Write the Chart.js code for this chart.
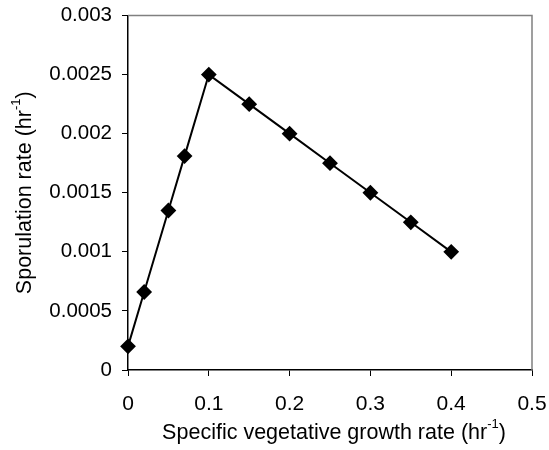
<!DOCTYPE html>
<html>
<head>
<meta charset="utf-8">
<script src="https://cdn.jsdelivr.net/npm/chart.js@4.4.0/dist/chart.umd.min.js"></script>
<style>
  html, body { margin: 0; padding: 0; background: #fff; }
  #wrap { width: 549px; height: 450px; }
</style>
</head>
<body>
<div id="wrap"><canvas id="c" width="549" height="450"></canvas></div>
<script>
// data
const growthRate = [0, 0.02, 0.05, 0.07, 0.1, 0.15, 0.2, 0.25, 0.3, 0.35, 0.4];
const sporulation = [0.0002, 0.00066, 0.00135, 0.00181, 0.0025, 0.00225, 0.002, 0.00175, 0.0015, 0.00125, 0.001];
const xTicks = [0, 0.1, 0.2, 0.3, 0.4, 0.5];
const yTicks = [0, 0.0005, 0.001, 0.0015, 0.002, 0.0025, 0.003];
const xTitle = ['Specific vegetative growth rate (hr', '-1', ')'];
const yTitle = ['Sporulation rate (hr', '-1', ')'];

const FONT = '"Liberation Sans", Arial, sans-serif';

// draws a title with a raised "-1" part
function drawSupTitle(ctx, parts, size) {
  const big = size + 'px ' + FONT, small = Math.round(size * 0.62) + 'px ' + FONT;
  ctx.font = big; const w0 = ctx.measureText(parts[0]).width;
  const w2 = ctx.measureText(parts[2]).width;
  ctx.font = small; const w1 = ctx.measureText(parts[1]).width;
  const total = w0 + w1 + w2;
  let x = -total / 2;
  ctx.textBaseline = 'middle'; ctx.textAlign = 'left'; ctx.fillStyle = '#000';
  ctx.font = big; ctx.fillText(parts[0], x, 0); x += w0;
  ctx.font = small; ctx.fillText(parts[1], x, -size * 0.4); x += w1;
  ctx.font = big; ctx.fillText(parts[2], x, 0);
}

const framePlugin = {
  id: 'frame',
  beforeDatasetsDraw(chart) {
    const { ctx, chartArea: a } = chart;
    ctx.save();
    ctx.strokeStyle = '#808080'; ctx.lineWidth = 1.5;
    ctx.beginPath();
    ctx.moveTo(a.left, a.top); ctx.lineTo(a.right, a.top); ctx.lineTo(a.right, a.bottom);
    ctx.stroke();
    ctx.restore();
  },
  afterDraw(chart) {
    const { ctx, chartArea: a } = chart;
    ctx.save();
    ctx.translate((a.left + a.right) / 2 + 4, 433);
    drawSupTitle(ctx, xTitle, 21.5);
    ctx.restore();
    ctx.save();
    ctx.translate(25, (a.top + a.bottom) / 2);
    ctx.rotate(-Math.PI / 2);
    drawSupTitle(ctx, yTitle, 21.5);
    ctx.restore();
  }
};

new Chart(document.getElementById('c'), {
  type: 'scatter',
  data: {
    datasets: [{
      data: growthRate.map((x, i) => ({ x: x, y: sporulation[i] })),
      showLine: true,
      borderColor: '#000',
      borderWidth: 2,
      backgroundColor: '#000',
      pointStyle: 'rectRot',
      pointRadius: 6.5,
      pointHoverRadius: 6.5,
      clip: false
    }]
  },
  options: {
    responsive: false,
    animation: false,
    events: [],
    layout: { padding: { top: 15.5, right: 17, left: 0, bottom: 0 } },
    plugins: { legend: { display: false }, tooltip: { enabled: false } },
    scales: {
      x: {
        type: 'linear', min: 0, max: 0.5,
        afterFit(s) { s.height = 80; s.paddingLeft = 0; s.paddingRight = 0; },
        afterBuildTicks(s) { s.ticks = xTicks.map(v => ({ value: v })); },
        border: { color: '#000', width: 1.5 },
        grid: { drawOnChartArea: false, drawTicks: true, tickLength: 6, color: '#000', lineWidth: 1 },
        ticks: { color: '#000', font: { family: FONT, size: 21 }, padding: 16, maxRotation: 0,
                 callback: v => String(v) }
      },
      y: {
        type: 'linear', min: 0, max: 0.003,
        afterFit(s) { s.width = 128; s.paddingTop = 0; s.paddingBottom = 0; },
        afterBuildTicks(s) { s.ticks = yTicks.map(v => ({ value: v })); },
        border: { color: '#000', width: 1.5 },
        grid: { drawOnChartArea: false, drawTicks: true, tickLength: 6, color: '#000', lineWidth: 1 },
        ticks: { color: '#000', font: { family: FONT, size: 20.5 }, padding: 10,
                 callback: v => String(v) }
      }
    }
  },
  plugins: [framePlugin]
});
</script>
</body>
</html>
